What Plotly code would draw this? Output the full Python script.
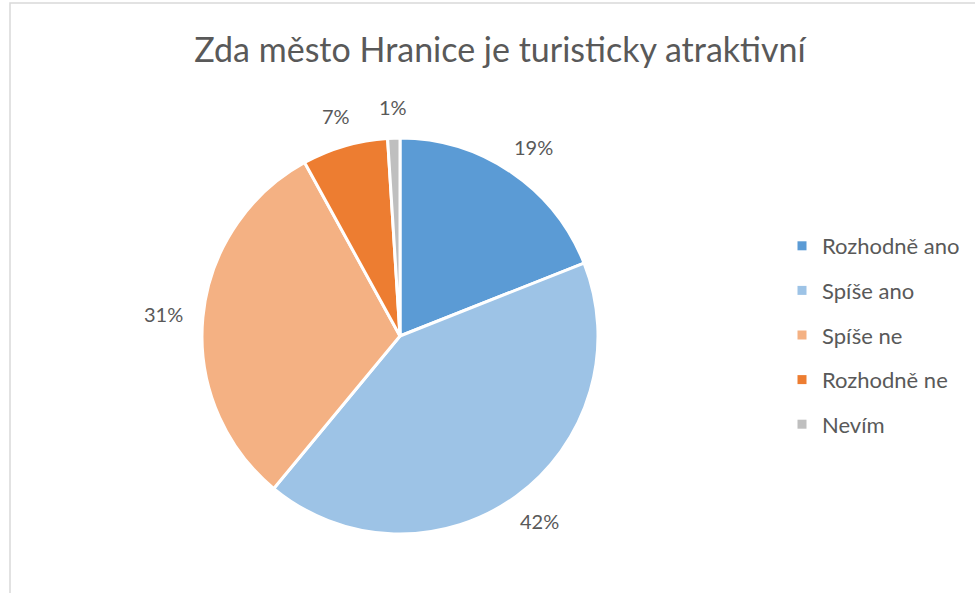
import math
import plotly.graph_objects as go

categories = ["Rozhodně ano", "Spíše ano", "Spíše ne", "Rozhodně ne", "Nevím"]
values = [19, 42, 31, 7, 1]
colors = ["#5B9BD5", "#9DC3E6", "#F4B183", "#ED7D31", "#BFBFBF"]
title_text = "Zda město Hranice je turisticky atraktivní"

W, H = 975, 593
font_family = "Lato, 'Open Sans', sans-serif"
text_color = "#595959"
label_size = 20

fig = go.Figure()

cx, cy, r = 400, 336, 198
fig.add_trace(go.Pie(
    labels=categories,
    values=values,
    sort=False,
    direction="clockwise",
    rotation=0,
    marker=dict(colors=colors, line=dict(color="white", width=3)),
    textinfo="none",
    showlegend=False,
    hoverinfo="label+percent",
    domain=dict(x=[(cx - r) / W, (cx + r) / W], y=[(H - cy - r) / H, (H - cy + r) / H]),
))

# percentage labels placed outside each slice, derived from the values
total = sum(values)
annotations = []
cum = 0
for v in values:
    mid = (cum + v / 2) / total * 2 * math.pi
    cum += v
    txt = f"{round(v / total * 100)}%"
    ux, uy = math.sin(mid), math.cos(mid)  # uy positive = up
    w = 13 * len(txt)
    h = 22
    d = 20
    px = cx + (r + d) * ux + (w / 2) * ux
    py = cy - ((r + d) * uy + (h / 2) * uy)
    annotations.append(dict(
        x=px / W, y=1 - py / H, xref="paper", yref="paper",
        text=txt, showarrow=False, xanchor="center", yanchor="middle",
        font=dict(size=label_size, color=text_color, family=font_family),
    ))

# legend entries (one group per category for wide spacing)
for cat, col in zip(categories, colors):
    fig.add_trace(go.Scatter(
        x=[None], y=[None], mode="markers", name=cat,
        marker=dict(symbol="square", size=9, color=col),
        legendgroup=cat, showlegend=True,
    ))

fig.update_layout(
    width=W, height=H,
    margin=dict(l=0, r=0, t=0, b=0),
    paper_bgcolor="white", plot_bgcolor="white",
    title=dict(text=title_text, x=500 / W, xanchor="center", y=1 - 50 / H, yanchor="middle",
               font=dict(size=34, color=text_color, family=font_family)),
    xaxis=dict(visible=False), yaxis=dict(visible=False),
    annotations=annotations,
    legend=dict(x=782 / W, xanchor="left", y=1 - 225 / H, yanchor="top",
                font=dict(size=22, color=text_color, family=font_family),
                tracegroupgap=13, itemwidth=30, bgcolor="rgba(0,0,0,0)"),
    shapes=[dict(type="rect", xref="paper", yref="paper",
                 x0=10 / W, x1=1.02, y0=-0.02, y1=1 - 3 / H,
                 line=dict(color="#D9D9D9", width=1.5))],
)

fig.write_html("out.html", config={"displayModeBar": False},
               post_script="document.body.style.margin='0';")
